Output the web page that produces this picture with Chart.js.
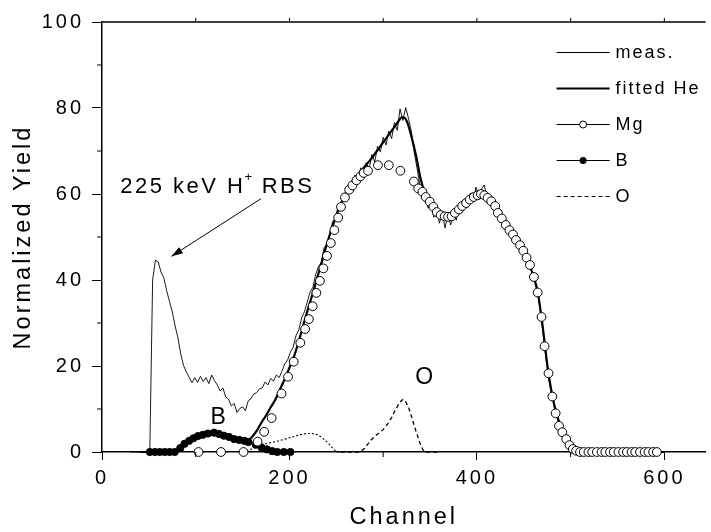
<!DOCTYPE html>
<html>
<head>
<meta charset="utf-8">
<script src="https://cdn.jsdelivr.net/npm/chart.js@4.4.1/dist/chart.umd.min.js"></script>
<style>
  html, body { margin: 0; padding: 0; background: #fff; }
  #wrap { width: 711px; height: 532px; }
</style>
</head>
<body>
<div id="wrap"><canvas id="myChart" width="711" height="532"></canvas></div>
<script>
// axis setup
const xMajorTicks = [0, 200, 400, 600];
const xMinorTicks = [100, 300, 500];
const xTopTicks = [100, 200, 300, 400, 500, 600];
const yMinorTicks = [10, 30, 50, 70, 90];
const legendLabels = ["meas.", "fitted He", "Mg", "B", "O"];

// measured spectrum, read every 3rd channel starting at channel 30
const measStart = 30;
const measStep = 3;
const measYield = [
  0, 0, 0, 0, 0, 0, 0, 0, 40, 44.6, 44.2, 41.8, 40.5, 37.5, 35, 32.6, 29.3, 26.6, 22.8, 20.1,
  18.6, 17.4, 16.1, 17.3, 16.2, 17.6, 16.4, 17.3, 15.9, 17.9, 16.6, 15.6, 14.2, 14.9, 12.8, 12.3, 10.7, 11.3, 9.2, 10.1,
  10.5, 9.6, 11.9, 12.4, 13.5, 13.8, 14.7, 14.9, 16.3, 15.6, 17.1, 16.5, 17.9, 17.3, 18.8, 20.5, 21.4, 23.2, 24.4, 27.1,
  28.4, 31.2, 32.6, 34.9, 37.2, 38.3, 41.3, 43.2, 44.1, 47.6, 48.2, 50.8, 53.6, 53.9, 57.4, 57.1, 60.2, 58.8, 62.6, 60.9,
  64.4, 62.8, 66.1, 63.9, 67.3, 65.8, 69.2, 67.4, 71.1, 69.8, 73.2, 71.4, 74.6, 72.9, 76.6, 74.8, 79.8, 77.1, 80.1, 77.6,
  74.6, 69.8, 66.2, 62.3, 60.4, 59.2, 56.7, 58.1, 54.6, 56.4, 53.2, 55.6, 52.1, 55.2, 52.8, 55.7, 53.9, 57.4, 55.6, 58.9,
  56.8, 60.2, 58.3, 61.6, 59.4, 61.2, 62.1, 58.4, 59.3, 56.8, 56.2, 57.4, 53.4, 54.2, 52.3, 51.2, 51.6, 49.3, 48.6, 47.4,
  45.7, 45.3, 43.1, 41.8, 39.6, 36.8, 32.1, 26.8, 21.2, 16.4, 13.1, 10.2, 7.6, 5.9, 4.4, 3.1, 1.8, 1.0, 0.4, 0,
  0, 0, 0, 0, 0, 0, 0, 0, 0, 0, 0, 0, 0, 0, 0, 0, 0, 0, 0, 0,
  0, 0, 0, 0, 0, 0, 0, 0, 0, 0, 0
];

// fitted He spectrum
const fitCh = [40, 50, 60, 70, 80, 90, 100, 110, 120, 130, 140, 150, 155, 160, 165, 170, 175, 180, 185, 190,
  195, 200, 205, 210, 215, 220, 225, 230, 235, 240, 245, 250, 255, 260, 265, 270, 275, 280, 285, 290,
  295, 300, 305, 310, 315, 320, 323, 326, 330, 335, 340, 345, 350, 355, 360, 365, 370, 375, 380, 385,
  390, 395, 400, 405, 410, 415, 420, 425, 430, 435, 440, 445, 450, 455, 460, 465, 470, 475, 480, 485,
  490, 495, 500, 505, 510, 600];
const fitYield = [0, 0, 0, 0, 0.5, 2.2, 3.5, 4.1, 4.5, 3.9, 3.1, 2.7, 2.6, 3.5, 4.9, 6.8, 8.5, 10.4, 12.2, 14.6,
  17, 19.6, 22.3, 25.8, 29.7, 33.4, 37, 40.8, 44.6, 48.4, 51.8, 55, 57.8, 60.2, 62.2, 63.8, 65, 66.3, 67.6, 69,
  70.5, 72, 73.5, 75, 76.5, 77.8, 77.7, 76.5, 73.5, 69, 63.5, 60, 57.8, 56, 55, 54.6, 54.7, 55.5, 56.6, 57.8,
  58.9, 59.6, 60, 60, 59.4, 58.3, 56.8, 55, 53.3, 51.5, 49.8, 48, 46.2, 44, 41.2, 37, 29.5, 20.5, 13.6, 8.8,
  5.8, 3.4, 1.6, 0.5, 0, 0];

// Mg component (open circles)
const mgCh = [103, 127, 151, 166, 173, 181, 191.5, 198.5, 204.5, 211.6, 216.7, 220.7, 224.8, 228.7, 232.5, 236.2, 240, 244.1, 247.9, 252,
  255, 259.2, 263.7, 267.2, 271.5, 275.7, 279.2, 283.8, 294.4, 306, 318.4, 332.8, 337.4, 341.9, 345.4, 349.7, 353.6, 357.1, 361.3, 365.6,
  369.2, 373, 376.6, 380.8, 384.3, 388.5, 392.4, 396.6, 400.8, 404.3, 407.9, 411.4, 415.3, 419.5, 422.3, 426.6, 430.8, 434.7, 438.5, 441.7,
  446, 449.5, 453, 456.6, 460.8, 464.9, 468.9, 472.2, 476.4, 480.5, 484, 487.6, 491.1, 495.3, 498.8, 502.4, 505.9, 510, 514, 519,
  523, 528, 533, 537, 542, 546, 551, 556, 560, 565, 569, 574, 579, 583, 588, 592];
const mgYield = [0, 0, 0, 2.4, 4.7, 7.9, 13.6, 17.5, 21, 25.4, 28.6, 30.9, 33.9, 37, 39.8, 42.7, 45.6, 48.6, 51.6, 54.5,
  57, 59.2, 61, 62, 63.2, 64.1, 64.9, 65.4, 66.7, 66.7, 65.4, 62.9, 61.3, 60.5, 59.3, 58.2, 57, 55.8, 55.1, 54.8,
  54.7, 54.8, 55.6, 56.4, 57.2, 57.9, 58.7, 59.3, 59.7, 60, 59.7, 59.1, 58.3, 57.2, 55.6, 54.3, 52.8, 51.6, 50.6, 49.3,
  48.1, 46.8, 45.2, 43.5, 40.7, 37.1, 31.4, 24.6, 18.3, 12.9, 9, 6.1, 4.6, 3, 1.6, 0.7, 0.3, 0, 0, 0,
  0, 0, 0, 0, 0, 0, 0, 0, 0, 0, 0, 0, 0, 0, 0, 0];

// B component (filled circles)
const bCh = [51, 56.4, 61.6, 67, 72.2, 77.6, 83.5, 88, 93, 97.5, 102.3, 107.6, 113, 119.5, 124.8, 130, 135.5, 141, 146.5, 152,
  156.2, 164, 170, 176, 181.6, 187, 194, 201];
const bYield = [0, 0, 0, 0, 0, 0, 0.9, 1.9, 2.6, 3.2, 3.7, 4, 4.3, 4.5, 4.2, 3.8, 3.5, 3, 2.8, 2.6,
  2.3, 1.7, 1.1, 0.6, 0.2, 0, 0, 0];

// O component (dashed)
const oCh = [255, 270, 275, 280, 287, 293, 300, 305, 309, 313, 317, 320, 322, 324, 327, 330, 333, 336, 339, 342, 344, 360];
const oYield = [0, 0, 0, 0.8, 2.8, 4, 5.2, 6.6, 8, 9.8, 11.3, 12.1, 12.2, 11.7, 10.4, 8.4, 6.2, 4.2, 2.2, 0.7, 0, 0];

// small dotted hump under the He edge
const humpCh = [150, 158, 166, 175, 185, 195, 205, 213, 220, 227, 232, 237, 242, 246, 250, 253];
const humpYield = [0, 0.6, 1.3, 1.9, 2.4, 3.0, 3.6, 4.1, 4.3, 4.2, 3.7, 2.9, 1.9, 0.9, 0.1, 0];

const FONT = '"Liberation Sans", Arial, Helvetica, sans-serif';

function pts(xs, ys) {
  return xs.map((x, i) => ({ x: x, y: ys[i] }));
}
const measCh = measYield.map((_, i) => measStart + measStep * i);

const framePlugin = {
  id: 'frame',
  beforeDraw(chart) {
    chart.ctx.letterSpacing = '3px';
  },
  afterDraw(chart) {
    const ctx = chart.ctx;
    const a = chart.chartArea;
    const xs = chart.scales.x, ys = chart.scales.y;
    const line = (x1, y1, x2, y2) => { ctx.beginPath(); ctx.moveTo(x1, y1); ctx.lineTo(x2, y2); ctx.stroke(); };
    ctx.save();
    ctx.strokeStyle = '#000';
    ctx.fillStyle = '#000';
    ctx.lineWidth = 1.5;
    line(a.left, a.top, a.right, a.top);
    ctx.lineWidth = 1;
    xMinorTicks.forEach(v => { const p = xs.getPixelForValue(v); line(p, a.bottom, p, a.bottom + 5); });
    xTopTicks.forEach(v => { const p = xs.getPixelForValue(v); line(p, a.top, p, a.top - 4); });
    yMinorTicks.forEach(v => { const p = ys.getPixelForValue(v); line(a.left - 5, p, a.left, p); });

    // annotation
    ctx.textBaseline = 'middle';
    ctx.textAlign = 'left';
    ctx.letterSpacing = '2.5px';
    ctx.font = '22px ' + FONT;
    let tx = xs.getPixelForValue(19.5), ty = ys.getPixelForValue(61.6);
    const part1 = '225 keV H';
    ctx.fillText(part1, tx, ty);
    tx += ctx.measureText(part1).width;
    ctx.font = '13px ' + FONT;
    ctx.letterSpacing = '0px';
    ctx.fillText('+', tx - 1, ty - 10);
    tx += ctx.measureText('+').width;
    ctx.font = '22px ' + FONT;
    ctx.letterSpacing = '2.5px';
    ctx.fillText(' RBS', tx, ty);

    // arrow
    const ax1 = xs.getPixelForValue(169.6), ay1 = ys.getPixelForValue(58.9);
    const ax2 = xs.getPixelForValue(74.1), ay2 = ys.getPixelForValue(45.5);
    line(ax1, ay1, ax2, ay2);
    const ang = Math.atan2(ay2 - ay1, ax2 - ax1);
    ctx.beginPath();
    ctx.moveTo(ax2, ay2);
    ctx.lineTo(ax2 - 12 * Math.cos(ang - 0.3), ay2 - 12 * Math.sin(ang - 0.3));
    ctx.lineTo(ax2 - 12 * Math.cos(ang + 0.3), ay2 - 12 * Math.sin(ang + 0.3));
    ctx.closePath();
    ctx.fill();

    // component labels
    ctx.textAlign = 'center';
    ctx.font = '23px ' + FONT;
    ctx.letterSpacing = '0px';
    ctx.fillText('B', xs.getPixelForValue(124), ys.getPixelForValue(7.9));
    ctx.fillText('O', xs.getPixelForValue(343.8), ys.getPixelForValue(17.2));

    // legend
    const lx0 = a.right - 149, lx1 = a.right - 96, ltx = a.right - 90;
    ctx.textAlign = 'left';
    ctx.font = '18px ' + FONT;
    ctx.letterSpacing = '2px';
    legendLabels.forEach((lab, i) => {
      const yy = a.top + 30.5 + 36 * i;
      ctx.save();
      ctx.lineWidth = i === 1 ? 2.2 : 1;
      if (i === 4) ctx.setLineDash([4, 3]);
      line(lx0, yy, lx1, yy);
      ctx.restore();
      const cx = (lx0 + lx1) / 2;
      if (i === 2) {
        ctx.beginPath(); ctx.arc(cx, yy, 3.5, 0, Math.PI * 2);
        ctx.fillStyle = '#fff'; ctx.fill(); ctx.stroke(); ctx.fillStyle = '#000';
      } else if (i === 3) {
        ctx.beginPath(); ctx.arc(cx, yy, 3.5, 0, Math.PI * 2); ctx.fill();
      }
      ctx.fillText(lab, ltx, yy + 1);
    });
    ctx.restore();
  }
};

const tickFont = { family: FONT, size: 20 };
const titleFont = { family: FONT, size: 23.5 };

new Chart(document.getElementById('myChart'), {
  type: 'scatter',
  data: {
    datasets: [
      { label: 'Mg', data: pts(mgCh, mgYield), showLine: false, pointRadius: 4.4, pointBorderWidth: 1,
        pointBackgroundColor: '#fff', pointBorderColor: '#000', clip: false },
      { label: 'B', data: pts(bCh, bYield), showLine: false, pointRadius: 3.6, pointBorderWidth: 1,
        pointBackgroundColor: '#000', pointBorderColor: '#000', clip: false },
      { label: 'fitted He', data: pts(fitCh, fitYield), showLine: true, pointRadius: 0, borderWidth: 2.2,
        borderColor: '#000', cubicInterpolationMode: 'monotone', clip: false },
      { label: 'meas.', data: pts(measCh, measYield), showLine: true, pointRadius: 0, borderWidth: 0.9,
        borderColor: '#000', clip: false },
      { label: 'O', data: pts(oCh, oYield), showLine: true, pointRadius: 0, borderWidth: 1.3,
        borderColor: '#000', borderDash: [4, 3], clip: false },
      { label: 'O2', data: pts(humpCh, humpYield), showLine: true, pointRadius: 0, borderWidth: 1.1,
        borderColor: '#000', borderDash: [2, 2], cubicInterpolationMode: 'monotone', clip: false }
    ]
  },
  options: {
    responsive: false,
    animation: false,
    devicePixelRatio: 1,
    layout: { padding: { top: 22, right: 0, bottom: 0, left: 0 } },
    plugins: { legend: { display: false }, tooltip: { enabled: false } },
    scales: {
      x: {
        type: 'linear',
        min: 0,
        max: 644,
        afterBuildTicks: s => { s.ticks = xMajorTicks.map(v => ({ value: v })); },
        afterFit: s => { s.height = 80; },
        ticks: { font: tickFont, color: '#000', padding: 6, maxRotation: 0 },
        grid: { drawOnChartArea: false, drawTicks: true, tickLength: 8, color: '#000', tickWidth: 1 },
        border: { display: true, color: '#000', width: 1.5 },
        title: { display: true, text: 'Channel', font: titleFont, color: '#000', padding: { top: 0, bottom: 0 } }
      },
      y: {
        min: 0,
        max: 100,
        ticks: { stepSize: 20, font: tickFont, color: '#000', padding: 8 },
        afterFit: s => { s.width = 102; },
        grid: { drawOnChartArea: false, drawTicks: true, tickLength: 10, color: '#000', tickWidth: 1 },
        border: { display: true, color: '#000', width: 1.5 },
        title: { display: true, text: 'Normalized Yield', font: titleFont, color: '#000', padding: { top: 9, bottom: 0 } }
      }
    }
  },
  plugins: [framePlugin]
});
</script>
</body>
</html>
